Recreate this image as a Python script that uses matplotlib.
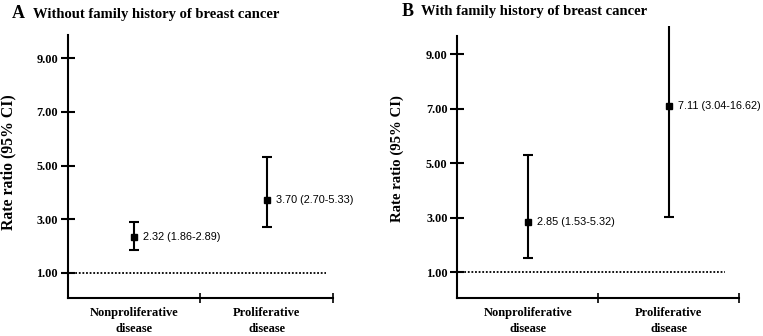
import matplotlib
matplotlib.use("Agg")
import matplotlib.pyplot as plt

categories = ["Nonproliferative\ndisease", "Proliferative\ndisease"]
panel_letters = ["A", "B"]
panel_titles = ["Without family history of breast cancer", "With family history of breast cancer"]
rr_A = [2.32, 3.70]
lo_A = [1.86, 2.70]
hi_A = [2.89, 5.33]
rr_B = [2.85, 7.11]
lo_B = [1.53, 3.04]
hi_B = [5.32, 16.62]
yticks = [1.0, 3.0, 5.0, 7.0, 9.0]
ref_value = 1.0

W, H = 763, 336
fig = plt.figure(figsize=(W / 100, H / 100), dpi=100)
serif = "Liberation Serif"
sans = "Liberation Sans"

ylim = (0.07, 10.05)

def px_axes(x0, x1, ytop, ybot):
    return [x0 / W, (H - ybot) / H, (x1 - x0) / W, (ybot - ytop) / H]

panels = [
    dict(rect=px_axes(67.7, 333, 30.2, 297.7), rr=rr_A, lo=lo_A, hi=hi_A,
         spine_top=9.87, dot_end=1.95, letter_x=12, title_x=33, title_y=14,
         ylab_x=8, ylab_y=162, ylab_fs=11.3),
    dict(rect=px_axes(457.3, 739, 25.6, 297.7), rr=rr_B, lo=lo_B, hi=hi_B,
         spine_top=9.67, dot_end=1.9, letter_x=402, title_x=421, title_y=11,
         ylab_x=397, ylab_y=159, ylab_fs=10.6),
]

for i, p in enumerate(panels):
    ax = fig.add_axes(p["rect"])
    ax.set_xlim(0, 2)
    ax.set_ylim(*ylim)
    for s in ["top", "right"]:
        ax.spines[s].set_visible(False)
    ax.spines["left"].set_bounds(ylim[0], p["spine_top"])
    ax.spines["left"].set_linewidth(1.5)
    ax.spines["bottom"].set_linewidth(1.5)
    xs = [0.5, 1.5]
    yerr = [[r - l for r, l in zip(p["rr"], p["lo"])], [h - r for r, h in zip(p["rr"], p["hi"])]]
    ax.errorbar(xs, p["rr"], yerr=yerr, fmt="s", color="black", ms=4.5,
                elinewidth=1.5, capsize=3.6, capthick=1.5, clip_on=True)
    ax.plot([0, p["dot_end"]], [ref_value, ref_value], color="black", lw=1.3,
            linestyle=(0, (1, 1)))
    for x, r, l, h in zip(xs, p["rr"], p["lo"], p["hi"]):
        ax.annotate(f"{r:.2f} ({l:.2f}-{h:.2f})", (x, r), xytext=(6.5, 0),
                    textcoords="offset points", va="center", ha="left",
                    fontsize=7.8, family=sans)
    ax.set_yticks(yticks)
    ax.set_yticklabels([f"{t:.2f}" for t in yticks], family=serif, fontweight="bold", fontsize=8.8)
    ax.tick_params(axis="y", direction="inout", length=10, width=1.5, pad=2)
    ax.set_xticks([1, 2])
    ax.set_xticklabels([])
    ax.tick_params(axis="x", direction="inout", length=7, width=1.2)
    for x, c in zip(xs, categories):
        ax.text(x, -0.035, c, transform=ax.get_xaxis_transform(), ha="center", va="top",
                family=serif, fontweight="bold", fontsize=9, linespacing=1.45)
    fig.text(p["ylab_x"] / W, 1 - p["ylab_y"] / H, "Rate ratio (95% CI)", rotation=90,
             ha="center", va="center", family=serif, fontweight="bold", fontsize=p["ylab_fs"])
    fig.text(p["letter_x"] / W, 1 - p["title_y"] / H, panel_letters[i], ha="left", va="center",
             family=serif, fontweight="bold", fontsize=13)
    fig.text(p["title_x"] / W, 1 - (p["title_y"] + 0.5) / H, panel_titles[i], ha="left", va="center",
             family=serif, fontweight="bold", fontsize=10.5)

fig.savefig("out.png", dpi=100)
